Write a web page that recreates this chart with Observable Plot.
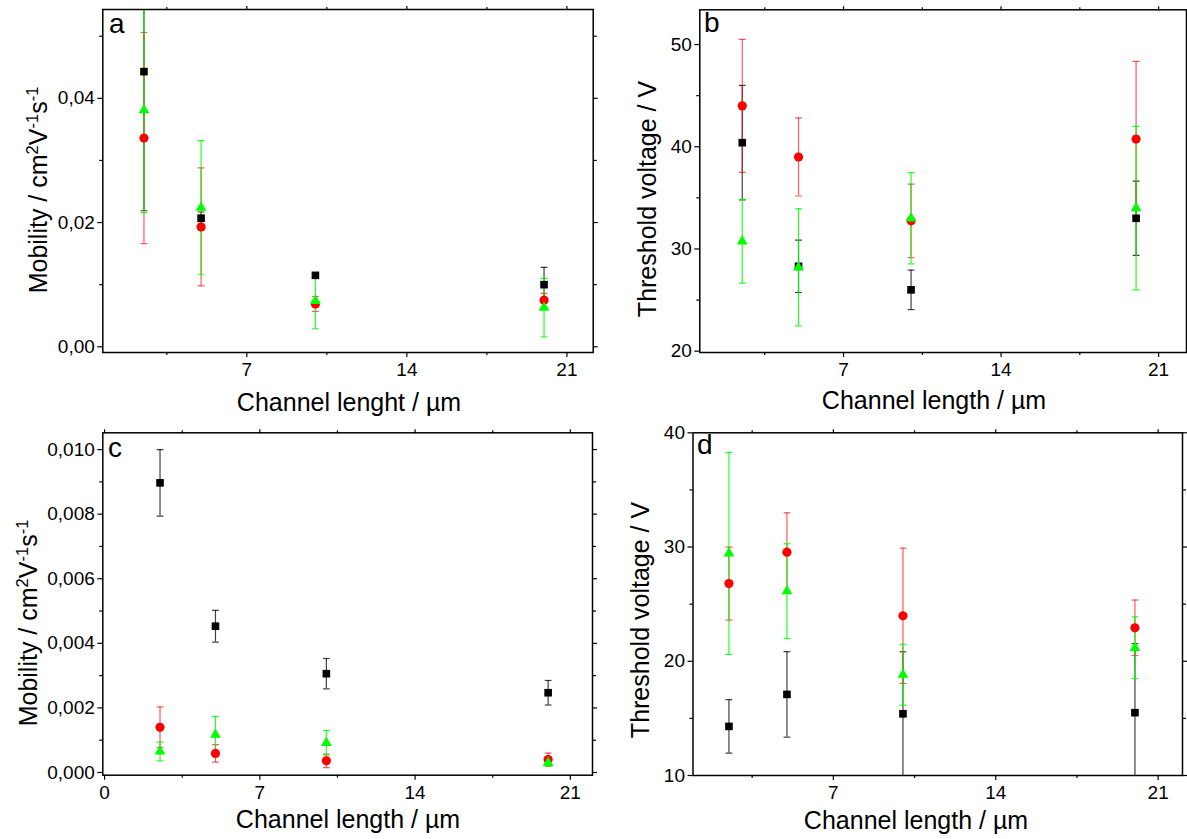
<!DOCTYPE html>
<html>
<head>
<meta charset="utf-8">
<script src="https://cdn.jsdelivr.net/npm/d3@7"></script>
<script src="https://cdn.jsdelivr.net/npm/@observablehq/plot@0.6"></script>
<style>
  body { margin: 0; background: #fff; }
  #fig { position: relative; width: 1187px; height: 839px; overflow: hidden; background: #fff; }
  #fig svg { position: absolute; }
</style>
</head>
<body>
<div id="fig"></div>
<script>
// ---------- data ----------
const channelLength = [2.5, 5, 10, 20];

// panel a: mobility
const aBlack = [0.0443, 0.0207, 0.0115, 0.0100];
const aBlackErr = [0.0224, 0.0010, 0.0003, 0.0028];
const aRed = [0.0336, 0.0193, 0.0069, 0.0075];
const aRedErr = [0.0170, 0.0095, 0.0012, 0.0011];
const aGreen = [0.0381, 0.0224, 0.0074, 0.0063];
const aGreenErr = [0.0165, 0.0108, 0.0045, 0.0047];

// panel b: threshold voltage
const bBlack = [40.4, 28.3, 26.0, 33.0];
const bBlackErr = [5.6, 2.56, 1.93, 3.63];
const bRed = [44.0, 39.0, 32.75, 40.75];
const bRedErr = [6.5, 3.82, 3.6, 7.6];
const bGreen = [30.75, 28.2, 33.0, 34.0];
const bGreenErr = [4.1, 5.73, 4.46, 8.0];

// panel c: mobility
const cBlack = [0.00897, 0.00453, 0.00306, 0.00247];
const cBlackErr = [0.00103, 0.00049, 0.00047, 0.00038];
const cRed = [0.00140, 0.00059, 0.00036, 0.00040];
const cRedErr = [0.00063, 0.00027, 0.00021, 0.00020];
const cGreen = [0.00065, 0.00117, 0.00092, 0.00030];
const cGreenErr = [0.00029, 0.00057, 0.00038, 0.00010];

// panel d: threshold voltage
const dBlack = [14.3, 17.1, 15.4, 15.5];
const dBlackErr = [2.34, 3.74, 5.43, 6.04];
const dRed = [26.8, 29.55, 23.98, 22.93];
const dRedErr = [3.2, 3.45, 5.92, 2.43];
const dGreen = [29.45, 26.14, 18.82, 21.18];
const dGreenErr = [8.84, 4.15, 2.67, 2.7];

// ticks
const xMajor = [7, 14, 21];
const xMajorLabels = ["7", "14", "21"];
const xMajorC = [0, 7, 14, 21];
const xMajorCLabels = ["0", "7", "14", "21"];
const xMinor = [3.5, 10.5, 17.5];

const aYMajor = [0, 0.02, 0.04];
const aYMajorLabels = ["0,00", "0,02", "0,04"];
const aYMinor = [0.01, 0.03, 0.05];

const bYMajor = [20, 30, 40, 50];
const bYMajorLabels = ["20", "30", "40", "50"];
const bYMinor = [25, 35, 45];

const cYMajor = [0, 0.002, 0.004, 0.006, 0.008, 0.010];
const cYMajorLabels = ["0,000", "0,002", "0,004", "0,006", "0,008", "0,010"];
const cYMinor = [0.001, 0.003, 0.005, 0.007, 0.009];

const dYMajor = [10, 20, 30, 40];
const dYMajorLabels = ["10", "20", "30", "40"];
const dYMinor = [15, 25, 35];

// ---------- drawing ----------
const fontFamily = '"Liberation Sans", Arial, Helvetica, sans-serif';
const capSymbol = {
  draw(ctx, size) { const w = Math.sqrt(size / Math.PI); ctx.moveTo(-w, 0); ctx.lineTo(w, 0); }
};
const BLACK = "#000000", RED = "#ff0000", GREEN = "#00ff00";

function makeSeries(vals, errs, color, symbol, r, op) {
  return { rows: channelLength.map((x, i) => ({ x, y: vals[i], e: errs[i] })), color, symbol, r, op };
}

function makePanel(cfg) {
  const marks = [];
  for (const s of cfg.series) {
    marks.push(Plot.ruleX(s.rows, { x: "x", y1: d => d.y - d.e, y2: d => d.y + d.e, stroke: s.color, strokeOpacity: s.op, strokeWidth: 1.2, clip: true }));
    for (const sign of [1, -1]) {
      marks.push(Plot.dot(s.rows, { x: "x", y: d => d.y + sign * d.e, symbol: capSymbol, r: 3.4, fill: "none", stroke: s.color, strokeOpacity: s.op, strokeWidth: 1.2, clip: true }));
    }
  }
  for (const s of cfg.series) {
    marks.push(Plot.dot(s.rows, { x: "x", y: "y", symbol: s.symbol, r: s.r, fill: s.color, stroke: "none" }));
  }
  const xMap = new Map(cfg.xMajor.map((t, i) => [t, cfg.xLabels[i]]));
  const yMap = new Map(cfg.yMajor.map((t, i) => [t, cfg.yLabels[i]]));
  const common = { label: null, strokeWidth: 1.2, fontSize: 19 };
  marks.push(
    Plot.axisX(cfg.xMajor, { ...common, anchor: "bottom", tickSize: 5, tickPadding: 5, tickFormat: d => xMap.get(d) }),
    Plot.axisX(xMinor, { ...common, anchor: "bottom", tickSize: 3, tickFormat: () => "" }),
    Plot.axisX(cfg.xMajor, { ...common, anchor: "top", tickSize: 4, tickFormat: () => "" }),
    Plot.axisX(xMinor, { ...common, anchor: "top", tickSize: 3, tickFormat: () => "" }),
    Plot.axisY(cfg.yMajor, { ...common, anchor: "left", tickSize: 5, tickPadding: 3, tickFormat: d => yMap.get(d) }),
    Plot.axisY(cfg.yMinor, { ...common, anchor: "left", tickSize: 3, tickFormat: () => "" }),
    Plot.axisY(cfg.yMajor, { ...common, anchor: "right", tickSize: 4, tickFormat: () => "" }),
    Plot.axisY(cfg.yMinor, { ...common, anchor: "right", tickSize: 3, tickFormat: () => "" }),
    Plot.frame({ stroke: "black", strokeWidth: 1.5 })
  );
  const plot = Plot.plot({
    width: cfg.width, height: cfg.height,
    marginLeft: cfg.m[0], marginRight: cfg.m[1], marginTop: cfg.m[2], marginBottom: cfg.m[3],
    x: { domain: cfg.xDomain, label: null },
    y: { domain: cfg.yDomain, label: null },
    style: { fontFamily, fontSize: "19px", color: "black", background: "transparent", overflow: "visible" },
    marks
  });
  plot.style.left = cfg.left + "px";
  plot.style.top = cfg.top + "px";
  const svg = d3.select(plot);
  svg.append("text").attr("x", cfg.letterPos[0]).attr("y", cfg.letterPos[1])
    .attr("text-anchor", "start").attr("font-size", 28).attr("fill", "black").text(cfg.letter);
  svg.append("text").attr("x", cfg.xTitlePos[0]).attr("y", cfg.xTitlePos[1])
    .attr("text-anchor", "middle").attr("font-size", 25).attr("fill", "black").text(cfg.xTitle);
  const yt = svg.append("text")
    .attr("transform", `translate(${cfg.yTitlePos[0]},${cfg.yTitlePos[1]}) rotate(-90)`)
    .attr("text-anchor", "middle").attr("font-size", 25).attr("fill", "black");
  for (const part of cfg.yTitle) {
    const ts = yt.append("tspan").text(part.t);
    if (part.sup) ts.attr("font-size", 16.5).attr("baseline-shift", "super");
  }
  document.getElementById("fig").appendChild(plot);
}

const mobilityTitle = [{ t: "Mobility / cm" }, { t: "2", sup: true }, { t: "V" }, { t: "-1", sup: true }, { t: "s" }, { t: "-1", sup: true }];
const vthTitle = [{ t: "Threshold voltage / V" }];

function trio(k, e1, r1, e2, g, e3) {
  return [
    makeSeries(k, e1, BLACK, "square", 4.3, 0.75),
    makeSeries(r1, e2, RED, "circle", 4.6, 0.65),
    makeSeries(g, e3, GREEN, "triangle", 4.0, 0.85)
  ];
}

makePanel({
  left: 0, top: 0, width: 600, height: 420, m: [102.3, 7.3, 9, 68],
  xDomain: [0.7, 22.15], yDomain: [-0.00092, 0.0543],
  xMajor, xLabels: xMajorLabels, yMajor: aYMajor, yLabels: aYMajorLabels, yMinor: aYMinor,
  series: trio(aBlack, aBlackErr, aRed, aRedErr, aGreen, aGreenErr),
  letter: "a", letterPos: [109, 33],
  xTitle: "Channel lenght / µm", xTitlePos: [349, 411],
  yTitle: mobilityTitle, yTitlePos: [47, 190]
});

makePanel({
  left: 600, top: 0, width: 587, height: 420, m: [99.3, 1, 9.3, 68],
  xDomain: [0.613, 22.24], yDomain: [19.87, 53.4],
  xMajor, xLabels: xMajorLabels, yMajor: bYMajor, yLabels: bYMajorLabels, yMinor: bYMinor,
  series: trio(bBlack, bBlackErr, bRed, bRedErr, bGreen, bGreenErr),
  letter: "b", letterPos: [104, 32],
  xTitle: "Channel length / µm", xTitlePos: [334, 409],
  yTitle: vthTitle, yTitlePos: [56, 199]
});

makePanel({
  left: 0, top: 420, width: 600, height: 419, m: [102.3, 8, 12.3, 64.3],
  xDomain: [-0.08, 22.0], yDomain: [-0.000084, 0.01052],
  xMajor: xMajorC, xLabels: xMajorCLabels, yMajor: cYMajor, yLabels: cYMajorLabels, yMinor: cYMinor,
  series: trio(cBlack, cBlackErr, cRed, cRedErr, cGreen, cGreenErr),
  letter: "c", letterPos: [108, 37],
  xTitle: "Channel length / µm", xTitlePos: [348, 408],
  yTitle: mobilityTitle, yTitlePos: [37, 203]
});

makePanel({
  left: 600, top: 420, width: 587, height: 419, m: [92.5, 5, 12.3, 64],
  xDomain: [0.95, 22.05], yDomain: [10, 40],
  xMajor, xLabels: xMajorLabels, yMajor: dYMajor, yLabels: dYMajorLabels, yMinor: dYMinor,
  series: trio(dBlack, dBlackErr, dRed, dRedErr, dGreen, dGreenErr),
  letter: "d", letterPos: [97, 34],
  xTitle: "Channel length / µm", xTitlePos: [316, 409],
  yTitle: vthTitle, yTitlePos: [49, 200]
});
</script>
</body>
</html>
